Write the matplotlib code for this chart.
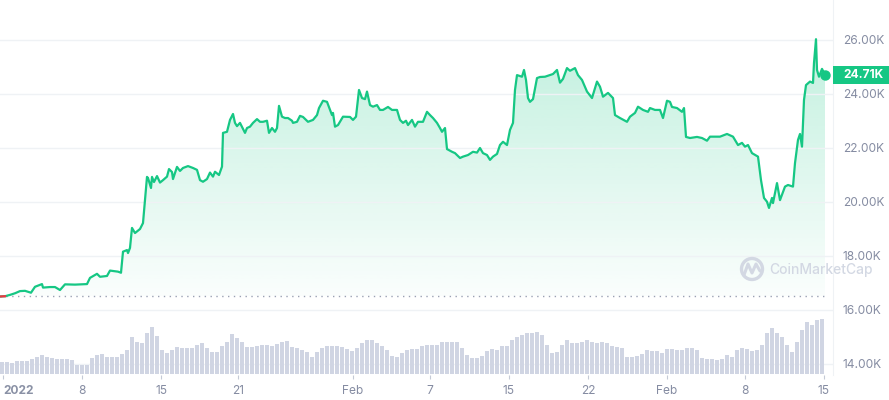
import numpy as np
import matplotlib
matplotlib.use("Agg")
import matplotlib.pyplot as plt
from matplotlib.colors import to_rgb
from matplotlib.patches import Rectangle, Ellipse

plt.rcParams['font.family'] = ['Inter', 'DejaVu Sans']

# time axis in chart units (0 = start of period)
t = [0, 5, 10, 15, 20, 25, 31, 35, 42, 43, 50, 55, 60, 65, 75, 87, 90, 97, 100, 107,
     110, 118, 121, 123, 127, 128, 130, 132, 135, 140, 143, 145, 147, 148, 151, 152, 154, 157, 160, 163,
     167, 169, 172, 173, 177, 180, 183, 188, 193, 197, 200, 203, 207, 210, 213, 215, 219, 222, 223, 227,
     230, 233, 235, 237, 240, 245, 247, 250, 253, 257, 260, 263, 267, 269, 272, 275, 277, 279, 282, 285,
     288, 292, 293, 297, 300, 303, 308, 313, 317, 319, 323, 327, 330, 332, 333, 335, 338, 343, 350, 353,
     356, 359, 362, 365, 367, 370, 373, 377, 380, 383, 388, 392, 397, 400, 403, 406, 408, 412, 415, 418,
     423, 427, 430, 433, 437, 440, 442, 445, 447, 452, 455, 460, 463, 468, 473, 477, 480, 483, 487, 490,
     493, 497, 500, 503, 507, 510, 513, 515, 517, 522, 524, 526, 528, 530, 533, 537, 540, 545, 550, 553,
     557, 560, 563, 567, 570, 575, 578, 582, 587, 592, 597, 600, 603, 608, 613, 615, 620, 627, 630, 635,
     638, 643, 648, 650, 655, 660, 663, 667, 670, 672, 677, 682, 684, 686, 690, 697, 702, 707, 710, 720,
     727, 733, 738, 742, 745, 748, 752, 758, 761, 764, 767, 769, 772, 773, 777, 780, 785, 788, 793, 795,
     798, 800, 802, 804, 806, 810, 813, 814, 816, 817, 819, 822, 825]

# price in thousands USD
price = [16.50, 16.51, 16.56, 16.62, 16.70, 16.71, 16.64, 16.86, 16.96, 16.83, 16.85, 16.85, 16.74, 16.95, 16.94, 16.96, 17.19, 17.34, 17.23, 17.26,
         17.46, 17.42, 17.38, 18.16, 18.22, 18.11, 18.30, 19.04, 18.85, 19.00, 19.22, 20.07, 20.93, 20.89, 20.52, 20.93, 20.74, 20.96, 20.72, 20.81,
         20.94, 21.22, 21.11, 20.85, 21.30, 21.15, 21.26, 21.33, 21.26, 21.19, 20.81, 20.75, 20.85, 21.09, 20.94, 21.12, 21.00, 21.31, 22.56, 22.60,
         23.04, 23.26, 22.93, 22.81, 22.93, 22.56, 22.74, 22.79, 22.93, 23.07, 22.97, 22.97, 23.01, 22.56, 22.74, 22.60, 22.74, 23.56, 23.16, 23.11,
         23.11, 23.01, 22.93, 22.97, 23.19, 23.15, 22.97, 23.04, 23.22, 23.48, 23.75, 23.71, 23.41, 23.22, 23.30, 22.79, 22.85, 23.16, 23.15, 23.04,
         23.16, 24.15, 23.85, 23.81, 24.09, 23.59, 23.53, 23.59, 23.41, 23.41, 23.52, 23.41, 23.41, 23.04, 22.93, 23.01, 22.85, 23.04, 22.79, 22.97,
         22.97, 23.34, 23.22, 23.11, 22.93, 22.74, 22.60, 22.74, 21.96, 21.86, 21.81, 21.63, 21.68, 21.74, 21.86, 21.83, 22.00, 21.81, 21.74, 21.56,
         21.68, 21.78, 22.11, 22.23, 22.11, 22.67, 22.93, 24.15, 24.70, 24.64, 24.89, 24.52, 23.85, 23.71, 23.81, 24.59, 24.63, 24.64, 24.70, 24.74,
         24.89, 24.42, 24.56, 24.96, 24.86, 24.96, 24.70, 24.52, 24.09, 23.85, 24.46, 24.27, 23.90, 24.04, 23.85, 23.22, 23.11, 22.97, 23.16, 23.30,
         23.53, 23.41, 23.34, 23.48, 23.41, 23.41, 23.11, 23.75, 23.71, 23.52, 23.48, 23.34, 23.48, 22.41, 22.37, 22.41, 22.37, 22.27, 22.42, 22.42,
         22.52, 22.42, 22.11, 22.19, 22.05, 22.11, 21.81, 21.68, 20.81, 20.15, 20.01, 19.78, 20.15, 19.96, 20.70, 20.07, 20.57, 20.63, 20.57, 21.44,
         22.30, 22.52, 22.05, 23.78, 24.33, 24.46, 24.41, 25.15, 26.03, 24.89, 24.64, 24.93, 24.71]

open_price = 16.52

# volume bars, one every 5 chart units
vol_t = list(range(2, 827, 5))
volume = [12, 12, 11, 13, 13, 13, 15, 17, 19, 17, 16, 15, 15, 15, 14, 9, 9, 9, 16, 19,
          20, 17, 17, 17, 20, 24, 37, 32, 31, 41, 47, 38, 24, 21, 24, 27, 26, 26, 26, 29,
          31, 26, 22, 22, 28, 32, 40, 36, 32, 27, 27, 28, 29, 29, 28, 30, 32, 33, 27, 26,
          24, 22, 17, 22, 26, 28, 28, 28, 27, 25, 23, 26, 31, 34, 34, 31, 28, 24, 18, 17,
          21, 24, 25, 25, 28, 29, 29, 29, 32, 32, 32, 32, 26, 19, 16, 16, 18, 23, 25, 24,
          28, 28, 34, 37, 39, 41, 41, 42, 39, 29, 21, 22, 29, 34, 31, 31, 32, 34, 32, 31,
          32, 31, 28, 27, 26, 17, 17, 18, 20, 24, 23, 23, 21, 25, 25, 24, 24, 26, 26, 24,
          16, 15, 15, 14, 15, 19, 17, 24, 26, 25, 23, 24, 29, 41, 46, 41, 37, 29, 22, 32,
          44, 52, 49, 54, 55]

tick_pos = [3, 82, 161.5, 238.5, 353, 430, 509, 588, 667, 745, 824]
tick_labels = ["2022", "8", "15", "21", "Feb", "7", "15", "22", "Feb", "8", "15"]
y_ticks = [14, 16, 18, 20, 22, 24, 26]

green = "#16c784"
red = "#ea3943"
grey_txt = "#858ca2"
grid_c = "#eff2f5"

W, H = 889, 400
fig = plt.figure(figsize=(W / 100, H / 100), dpi=100)
ax = fig.add_axes([0, 25 / H, 833 / W, 375 / H])

# gradient under the line
top = 26.3
grad = np.zeros((256, 1, 4))
grad[..., :3] = to_rgb(green)
grad[..., 3] = np.linspace(0.27, 0.02, 256).reshape(-1, 1)
im = ax.imshow(grad, extent=[t[0], t[-1], open_price, top], aspect='auto',
               origin='upper', zorder=1, interpolation='bilinear')
poly = ax.fill_between(t, price, open_price, color='none', lw=0)
im.set_clip_path(poly.get_paths()[0], ax.transData)

ax.plot(t, price, color=green, lw=1.6, zorder=4, solid_joinstyle='round')
ax.plot(t[:2], price[:2], color=red, lw=1.6, zorder=5)
ax.plot(t[-1], price[-1], 'o', color=green, ms=6.5, zorder=6)
ax.axhline(open_price, xmax=826 / 833, color="#9aa1b3", lw=1, ls=(0, (1, 3.2)), zorder=3)

ax.set_xlim(0, 833)
ax.set_ylim(26 - 335 / 27, 26 + 40 / 27)
ax.set_yticks(y_ticks)
ax.set_yticklabels([f"{v:.2f}K" for v in y_ticks])
ax.yaxis.tick_right()
ax.grid(axis='y', color=grid_c, lw=1, zorder=0)
ax.tick_params(axis='y', length=0, pad=7, labelsize=8.6, labelcolor=grey_txt)
ax.set_xticks(tick_pos)
ax.set_xticklabels(tick_labels)
ax.tick_params(axis='x', length=3, width=0.8, color="#c5cad6", pad=4,
               labelsize=8.6, labelcolor=grey_txt)
lab0 = ax.get_xticklabels()[0]
lab0.set_fontweight('bold')
lab0.set_ha('left')
lab0.set_color("#8a91a5")
for s in ['left', 'top', 'bottom']:
    ax.spines[s].set_visible(False)
ax.spines['right'].set_color(grid_c)

# volume panel
axv = fig.add_axes([0, 26 / H, 833 / W, 64 / H])
axv.patch.set_alpha(0)
axv.bar(vol_t, volume, width=3.9, color="#d0d5e3", lw=0)
axv.set_xlim(0, 833)
axv.set_ylim(0, 64)
axv.axis('off')

# last price tag
fig.add_artist(Rectangle((833 / W, 1 - 84 / H), 56 / W, 18 / H,
                         transform=fig.transFigure, color=green, lw=0))
fig.text(843 / W, 1 - 75 / H, f"{price[-1]:.2f}K", color='white', fontsize=8.6,
         fontweight='bold', va='center', ha='left')

# watermark
wm = "#d3d8e3"
fig.add_artist(Ellipse((752 / W, 1 - 269 / H), 21 / W, 21 / H, transform=fig.transFigure,
                       fill=False, ec=wm, lw=2.4))
mx = np.array([744, 748, 752, 756, 760]) / W
my = 1 - np.array([275, 264, 273, 264, 271]) / H
fig.add_artist(plt.Line2D(mx, my, transform=fig.transFigure, color=wm, lw=2.2,
                          solid_joinstyle='round', solid_capstyle='round'))
fig.text(769 / W, 1 - 270 / H, "CoinMarketCap", color=wm, fontsize=10,
         fontweight='medium', va='center', ha='left')

fig.savefig("out.png", dpi=100)
